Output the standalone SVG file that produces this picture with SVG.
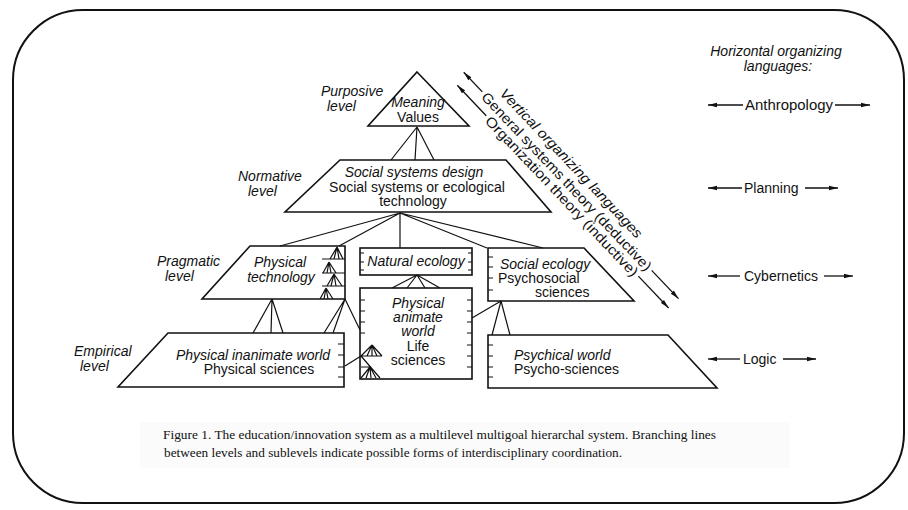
<svg xmlns="http://www.w3.org/2000/svg" width="908" height="510" viewBox="0 0 908 510">
<defs>
<style>
.ln{stroke:#111;stroke-width:1.2;fill:none}
.sh{stroke:#111;stroke-width:1.6;fill:#fff;stroke-linejoin:miter}
.tk{stroke:#111;stroke-width:1.2}
.t{font-family:"Liberation Sans",Arial,sans-serif;font-size:14px;fill:#111}
.i{font-style:italic}
.m{text-anchor:middle}
.cap{font-family:"Liberation Serif","Times New Roman",serif;font-size:13.5px;fill:#111}
.ar{stroke:#111;stroke-width:1.3;fill:none;marker-end:url(#ah)}
</style>
<marker id="ah" viewBox="0 0 10 6" refX="10" refY="3" markerWidth="9" markerHeight="5.4" markerUnits="userSpaceOnUse" orient="auto">
<path d="M0,0.6 L10,3 L0,5.4 Z" fill="#111"/>
</marker>
</defs>
<rect x="0" y="0" width="908" height="510" fill="#fff"/>
<rect x="13" y="10" width="891" height="493" rx="70" ry="70" fill="none" stroke="#111" stroke-width="2"/>
<rect x="140" y="422" width="650" height="46" fill="#fbfbfb"/>

<g id="meaning">
<polygon class="sh" points="417,72 469,126 368,126"/>
<text class="t i m" x="418" y="107" font-size="13">Meaning</text>
<text class="t m" x="418" y="122" font-size="13">Values</text>
</g>

<g id="normative">
<polygon class="sh" points="340,160 506,160 551,212 285,212"/>
<text class="t i m" x="414" y="177">Social systems design</text>
<text class="t m" x="417" y="192">Social systems or ecological</text>
<text class="t m" x="413" y="206">technology</text>
</g>

<g id="physical-technology">
<polygon class="sh" points="250,246 345,246 345,299 202,299"/>
<text class="t i m" x="280" y="267">Physical</text>
<text class="t i m" x="281" y="282">technology</text>
<path class="tk" d="M322,259H345M322,273H345M322,286H345"/>
<path class="tk" d="M337,247L330,259M337,247L334,259M337,247L339,259M337,247L343,259
M329,262L323,273M329,262L327,273M329,262L331,273M329,262L336,273
M334,274L327,286M334,274L331,286M334,274L336,286M334,274L342,286
M326,288L320,299M326,288L324,299M326,288L328,299M326,288L333,299"/>
</g>

<g id="natural-ecology">
<rect class="sh" x="360" y="248" width="112" height="27"/>
<path class="tk" d="M360,253h4M360,262h4M360,270h4M472,253h-4M472,262h-4M472,270h-4"/>
<text class="t i m" x="416" y="266">Natural ecology</text>
</g>

<g id="social-ecology">
<polygon class="sh" points="488,248 584,248 634,301 488,301"/>
<path class="tk" d="M488,257h5M488,267h5M488,278h5M488,290h5"/>
<text class="t i" x="500" y="269">Social ecology</text>
<text class="t" x="498" y="283">Psychosocial</text>
<text class="t" x="535" y="297">sciences</text>
</g>

<g id="physical-inanimate">
<polygon class="sh" points="168,333 344,333 344,387 118,387"/>
<path class="tk" d="M344,344h-6M344,355h-6M344,367h-6M344,377h-6"/>
<text class="t i m" x="253" y="360">Physical inanimate world</text>
<text class="t m" x="259" y="374">Physical sciences</text>
</g>

<g id="physical-animate">
<rect class="sh" x="360" y="288" width="112" height="91"/>
<path class="tk" d="M360,300h5M360,311h5M360,322h5M360,333h5M472,300h-5M472,311h-5M472,322h-5M472,333h-5M472,345h-5M472,356h-5M472,367h-5"/>
<text class="t i m" x="418" y="308">Physical</text>
<text class="t i m" x="418" y="322">animate</text>
<text class="t i m" x="418" y="336">world</text>
<text class="t m" x="418" y="351">Life</text>
<text class="t m" x="418" y="365">sciences</text>
<path class="tk" d="M361,356H382M372,345L361,356M372,345L367,356M372,345L372,356M372,345L377,356M372,345L382,356
M361,356L380,378M361,367H370M370,367L361,378M370,367L366,378M370,367L371,378M370,367L376,378"/>
</g>

<g id="psychical-world">
<polygon class="sh" points="488,335 668,335 717,388 488,388"/>
<path class="tk" d="M488,345h5M488,356h5M488,367h5M488,377h5"/>
<text class="t i" x="514" y="360">Psychical world</text>
<text class="t" x="514" y="374">Psycho-sciences</text>
</g>

<g id="connectors">
<path class="ln" d="M417,127L391,160M417,127L415,160M417,127L434,160"/>
<path class="ln" d="M400,213L280,246M400,213L339,246M400,213L400,248M400,213L487,248M400,213L543,248"/>
<path class="ln" d="M417,275L392,288M417,275L407,288M417,275L425,288M417,275L440,288"/>
<path class="ln" d="M272,299L253,333M272,299L271,333M272,299L283,333"/>
<path class="ln" d="M345,299L324,333M345,299L333,333M345,299L360,330"/>
<path class="ln" d="M501,301L472,318M501,301L492,335M501,301L510,335"/>
<path class="ln" d="M345,366L361,356"/>
</g>

<g id="level-labels">
<text class="t i" x="321" y="96">Purposive</text>
<text class="t i" x="327" y="111">level</text>
<text class="t i" x="238" y="181">Normative</text>
<text class="t i" x="248" y="196">level</text>
<text class="t i" x="157" y="266">Pragmatic</text>
<text class="t i" x="165" y="281">level</text>
<text class="t i" x="74" y="356">Empirical</text>
<text class="t i" x="80" y="371">level</text>
</g>

<g id="horizontal-languages">
<text class="t i m" x="776" y="56">Horizontal organizing</text>
<text class="t i m" x="778" y="71">languages:</text>
<line class="ar" x1="743" y1="105" x2="708" y2="105"/>
<text class="t" x="745" y="110" textLength="88" lengthAdjust="spacingAndGlyphs">Anthropology</text>
<line class="ar" x1="835" y1="105" x2="870" y2="105"/>
<line class="ar" x1="742" y1="188" x2="708" y2="188"/>
<text class="t" x="744" y="193">Planning</text>
<line class="ar" x1="805" y1="188" x2="838" y2="188"/>
<line class="ar" x1="740" y1="276" x2="708" y2="276"/>
<text class="t" x="744" y="281">Cybernetics</text>
<line class="ar" x1="824" y1="276" x2="853" y2="276"/>
<line class="ar" x1="740" y1="359" x2="708" y2="359"/>
<text class="t" x="743" y="364">Logic</text>
<line class="ar" x1="783" y1="359" x2="816" y2="359"/>
</g>

<g id="vertical-languages" transform="translate(463,73) rotate(46.5)">
<text class="t i" x="40" y="-11.6" font-size="15" textLength="200" lengthAdjust="spacingAndGlyphs">Vertical organizing languages</text>
<line class="ar" x1="27" y1="-1" x2="0" y2="-1"/>
<text class="t" x="30" y="4.4" font-size="15" textLength="240" lengthAdjust="spacingAndGlyphs">General systems theory (deductive)</text>
<line class="ar" x1="273" y1="-1" x2="312" y2="-1"/>
<line class="ar" x1="47" y1="12.6" x2="5" y2="12.6"/>
<text class="t" x="50" y="18" font-size="15" textLength="215" lengthAdjust="spacingAndGlyphs">Organization theory (inductive)</text>
<line class="ar" x1="268" y1="12.6" x2="312" y2="12.6"/>
</g>

<g id="caption">
<text class="cap" x="163" y="439" textLength="553" lengthAdjust="spacingAndGlyphs">Figure 1. The education/innovation system as a multilevel multigoal hierarchal system. Branching lines</text>
<text class="cap" x="164" y="457" textLength="458" lengthAdjust="spacingAndGlyphs">between levels and sublevels indicate possible forms of interdisciplinary coordination.</text>
</g>
</svg>
